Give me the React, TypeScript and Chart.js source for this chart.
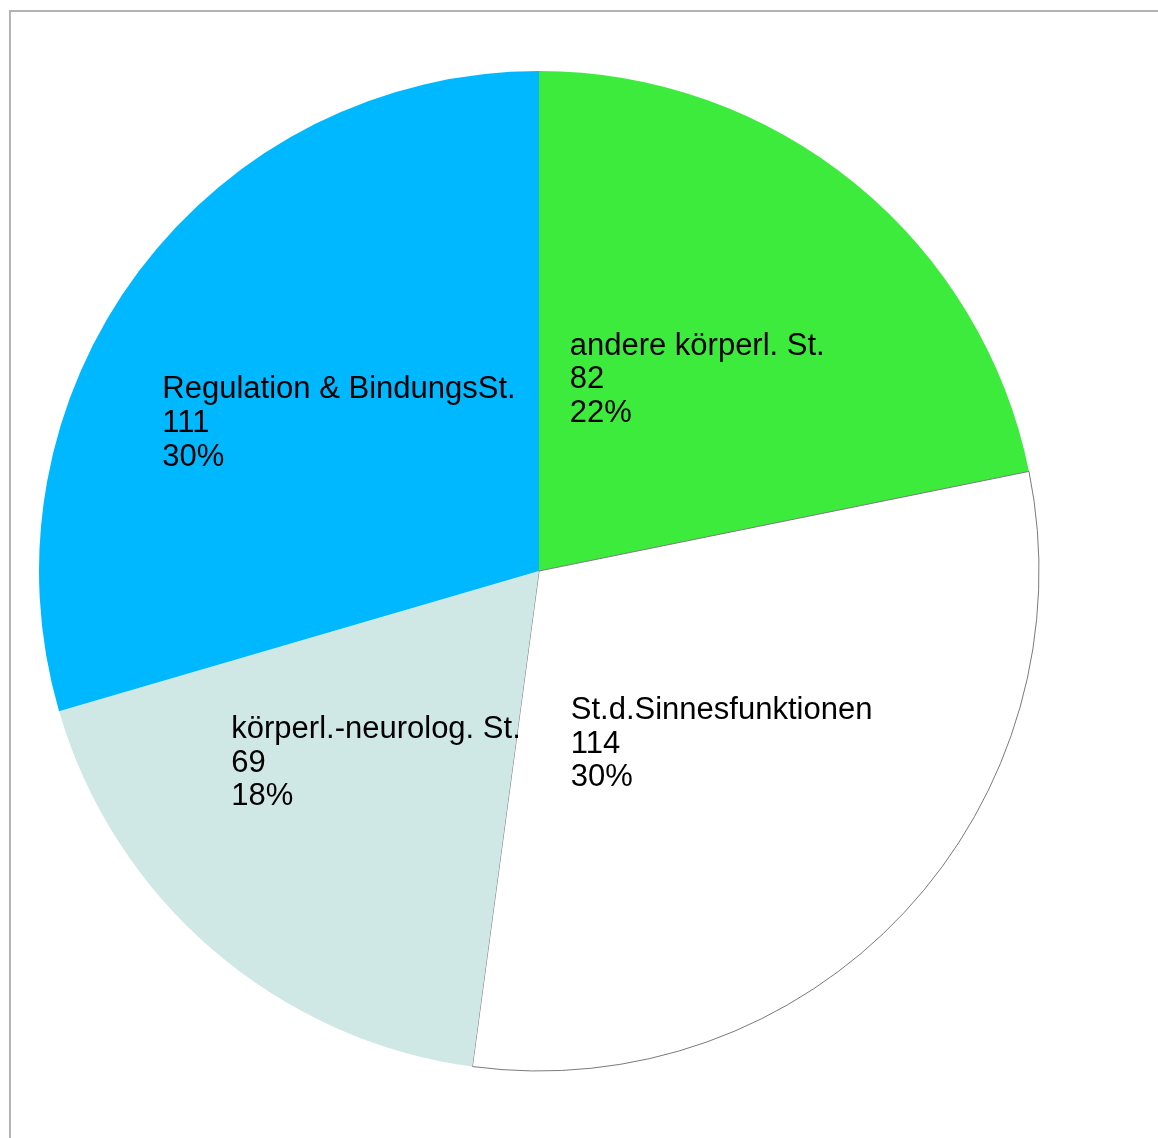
import React, { useEffect, useRef } from "react";
import { Chart, registerables } from "chart.js";

Chart.register(...registerables);

const categories = [
  "andere körperl. St.",
  "St.d.Sinnesfunktionen",
  "körperl.-neurolog. St.",
  "Regulation & BindungsSt.",
];
const values = [82, 114, 69, 111];
const colors = ["#3deb3d", "#ffffff", "#d0e8e5", "#00b8ff"];
const borderWidths = [0, 1, 0, 0];

const W = 1158;
const H = 1138;

const framePlugin = {
  id: "frame",
  beforeDraw(chart: any) {
    const ctx = chart.ctx;
    ctx.save();
    ctx.fillStyle = "#b3b3b3";
    ctx.fillRect(9, 10, W - 9, 2);
    ctx.fillRect(9, 10, 2, H - 10);
    ctx.restore();
  },
};

const labelPlugin = {
  id: "sliceLabels",
  afterDatasetsDraw(chart: any) {
    const ctx = chart.ctx;
    const meta = chart.getDatasetMeta(0);
    const data = chart.data.datasets[0].data as number[];
    const total = data.reduce((a, b) => a + b, 0);
    const fontSize = 31;
    const lineH = 33.7;
    ctx.save();
    ctx.font = `${fontSize}px "Liberation Sans", Arial, sans-serif`;
    ctx.fillStyle = "#000000";
    ctx.textAlign = "left";
    ctx.textBaseline = "alphabetic";
    meta.data.forEach((arc: any, i: number) => {
      const { x, y, startAngle, endAngle, outerRadius } = arc.getProps(
        ["x", "y", "startAngle", "endAngle", "outerRadius"],
        true
      );
      const mid = (startAngle + endAngle) / 2;
      const cx = x + Math.cos(mid) * outerRadius * 0.5;
      const cy = y + Math.sin(mid) * outerRadius * 0.5;
      const lines = [
        String(chart.data.labels[i]),
        String(data[i]),
        Math.round((data[i] / total) * 100) + "%",
      ];
      const maxW = Math.max(...lines.map((l) => ctx.measureText(l).width));
      const left = cx - maxW / 2;
      const midBaseline = cy + 11;
      lines.forEach((l, k) => {
        ctx.fillText(l, left, midBaseline + (k - 1) * lineH);
      });
    });
    ctx.restore();
  },
};

export default function App() {
  const ref = useRef<HTMLCanvasElement>(null);
  useEffect(() => {
    if (!ref.current) return;
    const chart = new Chart(ref.current, {
      type: "pie",
      data: {
        labels: categories,
        datasets: [
          {
            data: values,
            backgroundColor: colors,
            borderColor: "#7a7a7a",
            borderWidth: borderWidths,
          },
        ],
      },
      options: {
        responsive: false,
        animation: false,
        radius: 500,
        layout: { padding: { left: 0, right: 80, top: 4, bottom: 0 } },
        plugins: {
          legend: { display: false },
          tooltip: { enabled: false },
        },
      },
      plugins: [framePlugin, labelPlugin],
    });
    return () => chart.destroy();
  }, []);
  return (
    <div style={{ position: "absolute", left: 0, top: 0, width: W, height: H, background: "#ffffff" }}>
      <canvas ref={ref} width={W} height={H} style={{ display: "block" }} />
    </div>
  );
}
